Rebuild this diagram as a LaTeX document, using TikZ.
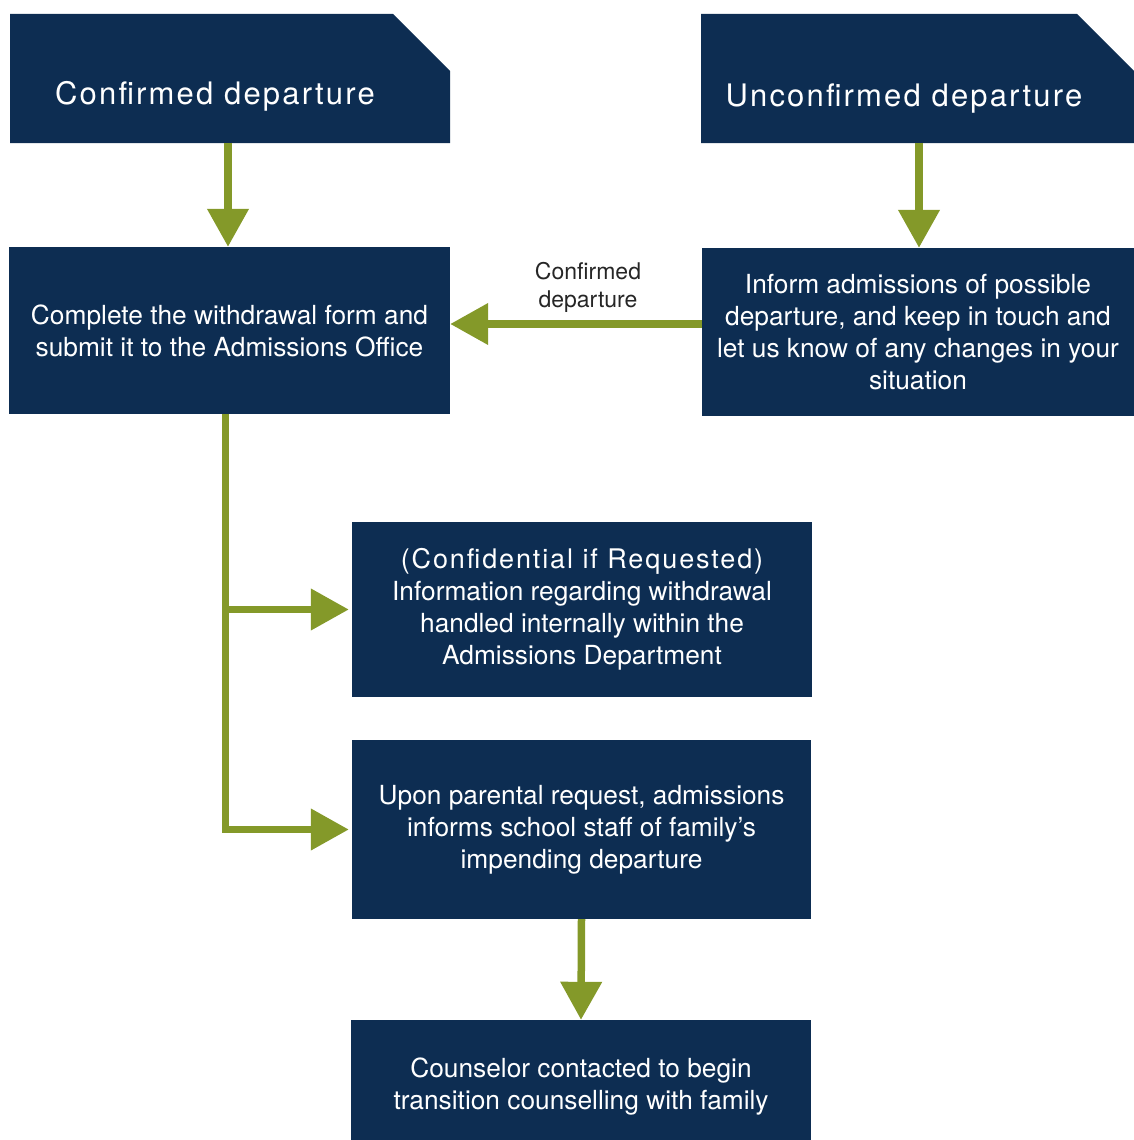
\documentclass[tikz,border=0pt]{standalone}
\usepackage{fontspec}
\setmainfont{TeX Gyre Heros}
\newfontfamily\titlefont[LetterSpace=7]{TeX Gyre Heros}
\usetikzlibrary{arrows.meta}
\definecolor{navy}{RGB}{13,45,82}
\definecolor{olive}{RGB}{132,153,41}
\begin{document}
\begin{tikzpicture}[x=1pt,y=-1pt,
  box/.style={fill=navy, draw=none, inner sep=0pt, text=white, align=center,
    font=\fontsize{26.3}{32}\selectfont},
  headbox/.style={draw=none, inner sep=0pt},
  headtext/.style={text=white, inner sep=0pt, anchor=base, font=\titlefont\fontsize{31}{34}\selectfont},
  conn/.style={draw=olive, line width=7.5pt, -{Triangle[width=40pt,length=38pt]}},
  lbl/.style={text=black!85, align=center, inner sep=0pt, font=\fontsize{23}{28}\selectfont}
]
\useasboundingbox (0,0) rectangle (1134,1140);

% header boxes
\fill[navy] (10,14) -- (393,14) -- (450,71) -- (450,143) -- (10,143) -- cycle;
\node[headbox, minimum width=440pt, minimum height=129pt] (A) at (230,78.5) {};
\node[headtext] (At) at (215,104) {Confirmed departure};
\fill[navy] (701,14) -- (1077,14) -- (1134,71) -- (1134,143) -- (701,143) -- cycle;
\node[headbox, minimum width=433pt, minimum height=129pt] (B) at (917.5,78.5) {};
\node[headtext] (Bt) at (904,106) {Unconfirmed departure};

% content boxes
\node[box, minimum width=441pt, minimum height=167pt] (C) at (229.5,330.5)
  {Complete the withdrawal form and\\submit it to the Admissions Office};
\node[box, minimum width=432pt, minimum height=168pt] (D) at (918,332)
  {Inform admissions of possible\\departure, and keep in touch and\\let us know of any changes in your\\situation};
\node[box, minimum width=460pt, minimum height=175pt] (E) at (582,609.5)
  {{\titlefont\fontsize{27}{32}\selectfont (Confidential if Requested)}\\Information regarding withdrawal\\handled internally within the\\Admissions Department};
\node[box, minimum width=459pt, minimum height=179pt] (F) at (581.5,829.5)
  {Upon parental request, admissions\\informs school staff of family’s\\impending departure};
\node[box, minimum width=460pt, minimum height=134pt] (G) at (581,1087)
  {Counselor contacted to begin\\transition counselling with family};

% connectors
\draw[conn] ([xshift=-2pt]A.south) -- ([xshift=-1.5pt]C.north);
\draw[conn] ([xshift=1.5pt]B.south) -- ([xshift=1pt]D.north);
\draw[conn] ([yshift=8pt]D.west) -- ([yshift=6.5pt]C.east)
  node[lbl, midway, above=8pt, xshift=12pt] (L) {Confirmed\\departure};
\coordinate (trunk) at (225.5,414);
\draw[conn, shorten >=3pt] (trunk) |- (E.west);
\draw[conn, shorten >=3pt] (trunk) |- (F.west);
\draw[conn] (F.south) -- (G.north);
\end{tikzpicture}
\end{document}
